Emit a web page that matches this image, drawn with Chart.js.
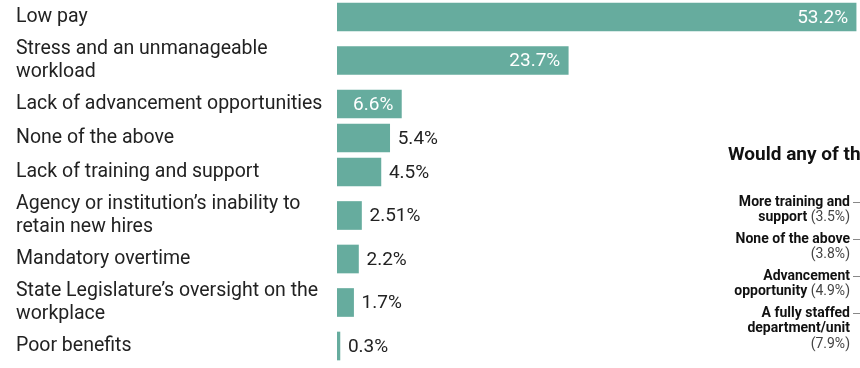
<!DOCTYPE html>
<html>
<head>
<meta charset="utf-8">
<script src="https://cdn.jsdelivr.net/npm/chart.js@4/dist/chart.umd.min.js"></script>
<style>
  html, body { margin: 0; padding: 0; background: #fff; overflow: hidden; width: 860px; height: 368px; }
  #wrap { position: relative; width: 860px; height: 368px; overflow: hidden; }
  #main { position: absolute; left: 0; top: 0; width: 860px; height: 368px; }
  #side { position: absolute; left: 728px; top: 140px; width: 420px; height: 228px; }
</style>
</head>
<body>
<div id="wrap">
  <div id="side"><canvas id="stay"></canvas></div>
  <div id="main"><canvas id="leave"></canvas></div>
</div>
<script>
// Main reasons for leaving (share of respondents, %)
const reasons = [
  ["Low pay"],
  ["Stress and an unmanageable", "workload"],
  ["Lack of advancement opportunities"],
  ["None of the above"],
  ["Lack of training and support"],
  ["Agency or institution’s inability to", "retain new hires"],
  ["Mandatory overtime"],
  ["State Legislature’s oversight on the", "workplace"],
  ["Poor benefits"]
];
const shares = [53.2, 23.7, 6.6, 5.4, 4.5, 2.51, 2.2, 1.7, 0.3];

// What would make people stay (share of respondents, %)
const stayOptions = [
  "More training and support",
  "None of the above",
  "Advancement opportunity",
  "A fully staffed department/unit"
];
const stayShares = [3.5, 3.8, 4.9, 7.9];
const stayTitle = "Would any of the following keep you in your job?";

const TEAL = "rgb(102,172,158)";
const FONT = "Roboto";

// Rows grow with the number of label lines
const ROW_ONE = 34, ROW_EXTRA = 19;
const rowCenters = [];
let rowTotal = 0;
reasons.forEach(lines => {
  const size = ROW_ONE + ROW_EXTRA * (lines.length - 1);
  rowCenters.push(rowTotal + size / 2);
  rowTotal += size;
});

// Percent labels: inside the long bars, after the short ones
const valueLabels = {
  id: "valueLabels",
  afterDatasetsDraw(chart) {
    const ctx = chart.ctx;
    const meta = chart.getDatasetMeta(0);
    ctx.save();
    ctx.font = "400 19px " + FONT;
    ctx.textBaseline = "middle";
    meta.data.forEach((bar, i) => {
      const v = shares[i];
      const txt = v + "%";
      if (v > 6) {
        ctx.fillStyle = "#ffffff";
        ctx.textAlign = "right";
        ctx.fillText(txt, bar.x - 8, bar.y + 1);
      } else {
        ctx.fillStyle = "#222222";
        ctx.textAlign = "left";
        ctx.fillText(txt, bar.x + 8, bar.y + 1);
      }
    });
    ctx.restore();
  }
};

new Chart(document.getElementById("leave"), {
  type: "bar",
  data: {
    datasets: [{
      data: shares.map((v, i) => ({ x: v, y: rowCenters[i] })),
      backgroundColor: TEAL,
      borderWidth: 0,
      barThickness: 28
    }]
  },
  options: {
    indexAxis: "y",
    responsive: true,
    maintainAspectRatio: false,
    animation: false,
    layout: { padding: { left: 16, top: 0, right: 0, bottom: 5 } },
    plugins: { legend: { display: false }, tooltip: { enabled: false } },
    scales: {
      x: { type: "linear", display: false, min: 0, max: 53.6 },
      y: {
        type: "linear",
        reverse: true,
        offset: false,
        min: 0,
        max: rowTotal,
        grid: { display: false },
        border: { display: false },
        afterBuildTicks: s => { s.ticks = rowCenters.map(v => ({ value: v })); },
        afterFit: s => { s.width = 321; s.paddingTop = 0; s.paddingBottom = 0; },
        ticks: {
          autoSkip: false,
          crossAlign: "far",
          padding: 0,
          color: "#222222",
          font: { family: FONT, size: 19.5, lineHeight: 1.2 },
          callback: (v, i) => reasons[i]
        }
      }
    }
  },
  plugins: [valueLabels]
});

// Side chart: bold option names with the regular-weight share, wrapped to a width
const STAY_WRAP = 120;
const stayLabels = {
  id: "stayLabels",
  afterDraw(chart) {
    const ctx = chart.ctx;
    const scale = chart.scales.y;
    const right = scale.right - 7 - 3;
    const bold = "700 14px " + FONT, norm = "400 14px " + FONT;
    const width = t => { ctx.font = t.bold ? bold : norm; return ctx.measureText(t.text).width; };
    ctx.save();
    ctx.font = bold;
    const space = ctx.measureText(" ").width;
    ctx.textBaseline = "middle";
    ctx.textAlign = "left";
    stayOptions.forEach((name, i) => {
      const tokens = name.split(" ").map(w => ({ text: w, bold: true }));
      tokens.push({ text: "(" + stayShares[i] + "%)", bold: false });
      const lines = [];
      let cur = [], curW = 0;
      tokens.forEach(t => {
        const w = width(t);
        const next = cur.length ? curW + space + w : w;
        if (cur.length && next > STAY_WRAP) {
          lines.push({ toks: cur, w: curW });
          cur = [t]; curW = w;
        } else {
          cur.push(t); curW = next;
        }
      });
      if (cur.length) lines.push({ toks: cur, w: curW });
      const y0 = scale.getPixelForValue(i);
      lines.forEach((ln, k) => {
        let x = right - ln.w;
        const y = y0 + k * 15.5;
        ln.toks.forEach(t => {
          ctx.font = t.bold ? bold : norm;
          ctx.fillStyle = t.bold ? "#111111" : "#444444";
          ctx.fillText(t.text, x, y);
          x += ctx.measureText(t.text).width + space;
        });
      });
    });
    ctx.restore();
  }
};

new Chart(document.getElementById("stay"), {
  type: "bar",
  data: {
    labels: stayOptions,
    datasets: [{ data: stayShares, backgroundColor: TEAL, borderWidth: 0 }]
  },
  options: {
    indexAxis: "y",
    responsive: true,
    maintainAspectRatio: false,
    animation: false,
    layout: { padding: { left: 0, top: 0, right: 0, bottom: 36 } },
    plugins: {
      legend: { display: false },
      tooltip: { enabled: false },
      title: {
        display: true,
        text: stayTitle,
        align: "start",
        color: "#111111",
        font: { family: FONT, size: 19, weight: "bold" },
        padding: { top: 4, bottom: 17 }
      }
    },
    scales: {
      x: { display: false, min: 0, max: 10 },
      y: {
        grid: { display: true, offset: false, drawOnChartArea: false, drawTicks: true, tickLength: 7, color: "#888888" },
        border: { display: false },
        afterFit: s => { s.width = 132; },
        ticks: { display: false }
      }
    }
  },
  plugins: [stayLabels]
});
</script>
</body>
</html>
